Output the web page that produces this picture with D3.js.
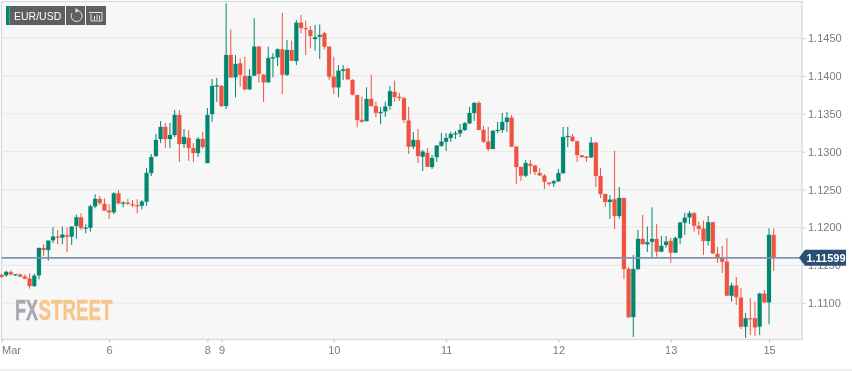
<!DOCTYPE html>
<html>
<head>
<meta charset="utf-8">
<script src="https://cdn.jsdelivr.net/npm/d3@7"></script>
<style>
  html, body { margin: 0; padding: 0; background: #fff; }
  svg { display: block; filter: blur(0.35px); }
  text { font-family: "Liberation Sans", Arial, sans-serif; }
</style>
</head>
<body>
<div id="chart"></div>
<script>
const tickIndex = [0, 23, 44, 47, 71, 95, 119, 143, 164];
const tickLabel = ["Mar", "6", "8", "9", "10", "11", "12", "13", "15"];
const priceTicks = [1.145, 1.14, 1.135, 1.13, 1.125, 1.12, 1.115, 1.11];
const lastPrice = 1.11599;

const open = [
  1.11373,1.11369,1.11409,1.11373,1.11377,1.11351,1.11324,1.11228,1.11369,1.11729,
  1.11703,1.11831,1.11879,1.11866,1.11897,1.11879,1.12020,1.12134,1.11984,1.11997,
  1.12279,1.12376,1.12310,1.12222,1.12201,1.12450,1.12319,1.12327,1.12306,1.12293,
  1.12288,1.12340,1.12718,1.12943,1.13167,1.13326,1.13167,1.13220,1.13484,1.13101,
  1.13180,1.13049,1.12983,1.13167,1.12850,1.13497,1.13860,1.13866,1.13603,1.14275,
  1.13981,1.14165,1.13998,1.13823,1.14002,1.14385,1.14015,1.13915,1.14231,1.14245,
  1.14350,1.14015,1.14341,1.14196,1.14701,1.14628,1.14605,1.14486,1.14517,1.14562,
  1.14385,1.13989,1.13849,1.14068,1.14095,1.13946,1.13748,1.13418,1.13405,1.13695,
  1.13599,1.13510,1.13533,1.13603,1.13788,1.13722,1.13704,1.13409,1.13066,1.13154,
  1.12934,1.12983,1.12798,1.12929,1.13079,1.13132,1.13180,1.13233,1.13242,1.13286,
  1.13374,1.13510,1.13642,1.13286,1.13132,1.13035,1.13273,1.13286,1.13392,1.13448,
  1.13066,1.12798,1.12683,1.12837,1.12815,1.12718,1.12683,1.12590,1.12583,1.12609,
  1.12718,1.13193,1.13198,1.13137,1.12952,1.12934,1.12925,1.13119,1.12679,1.12441,
  1.12336,1.12371,1.12151,1.12389,1.11452,1.10818,1.11452,1.11848,1.11778,1.11812,
  1.11848,1.11681,1.11769,1.11822,1.11668,1.11861,1.12063,1.12134,1.12187,1.12020,
  1.11984,1.11822,1.12068,1.11650,1.11597,1.11548,1.11100,1.11232,1.11074,1.10691,
  1.10801,1.10801,1.10691,1.11126,1.11013,1.11901
];
const high = [
  1.11386,1.11430,1.11435,1.11386,1.11390,1.11382,1.11395,1.11390,1.11733,1.11778,
  1.11826,1.12003,1.11967,1.12011,1.11997,1.12011,1.12169,1.12187,1.12042,1.12296,
  1.12437,1.12415,1.12385,1.12306,1.12464,1.12494,1.12345,1.12376,1.12362,1.12372,
  1.12362,1.12784,1.12969,1.13233,1.13405,1.13379,1.13379,1.13550,1.13550,1.13299,
  1.13286,1.13114,1.13193,1.13260,1.13576,1.13959,1.13972,1.13880,1.14957,1.14614,
  1.14275,1.14231,1.14253,1.14090,1.14760,1.14394,1.14025,1.14385,1.14298,1.14363,
  1.14833,1.14473,1.14464,1.14737,1.14803,1.14728,1.14658,1.14671,1.14680,1.14583,
  1.14385,1.14253,1.14143,1.14143,1.14100,1.13955,1.13748,1.13726,1.13849,1.14012,
  1.13660,1.13586,1.13660,1.13866,1.13937,1.13774,1.13722,1.13590,1.13260,1.13299,
  1.13022,1.13049,1.12956,1.13088,1.13246,1.13246,1.13260,1.13273,1.13365,1.13392,
  1.13590,1.13656,1.13669,1.13339,1.13326,1.13286,1.13392,1.13510,1.13524,1.13484,
  1.13066,1.12798,1.12890,1.12890,1.12824,1.12784,1.12705,1.12600,1.12626,1.12771,
  1.13326,1.13326,1.13233,1.13141,1.12956,1.12943,1.13193,1.13128,1.12784,1.12441,
  1.12428,1.13013,1.12534,1.12389,1.11479,1.11637,1.11967,1.12165,1.12011,1.12266,
  1.12046,1.11888,1.11888,1.11861,1.11879,1.12073,1.12192,1.12218,1.12205,1.12077,
  1.12090,1.12152,1.12073,1.11743,1.11756,1.11861,1.11271,1.11347,1.11201,1.10871,
  1.11069,1.11021,1.11139,1.11175,1.11989,1.11989
];
const low = [
  1.11340,1.11351,1.11364,1.11360,1.11342,1.11316,1.11192,1.11215,1.11316,1.11624,
  1.11562,1.11791,1.11778,1.11778,1.11673,1.11769,1.11852,1.11967,1.11923,1.11945,
  1.12253,1.12296,1.12222,1.12108,1.12174,1.12306,1.12266,1.12296,1.12266,1.12187,
  1.12240,1.12284,1.12679,1.12929,1.13114,1.13049,1.13049,1.13193,1.12864,1.13049,
  1.12877,1.12864,1.12929,1.13035,1.12850,1.13392,1.13656,1.13590,1.13563,1.13981,
  1.13718,1.13857,1.13814,1.13814,1.13998,1.13910,1.13656,1.13915,1.13981,1.14130,
  1.13761,1.13998,1.14196,1.14143,1.14562,1.14275,1.14363,1.14332,1.14223,1.14350,
  1.13946,1.13761,1.13718,1.13946,1.13946,1.13744,1.13322,1.13383,1.13396,1.13594,
  1.13454,1.13362,1.13461,1.13550,1.13660,1.13669,1.13379,1.12969,1.13035,1.12850,
  1.12745,1.12798,1.12771,1.12864,1.13062,1.13009,1.13128,1.13167,1.13193,1.13273,
  1.13365,1.13405,1.13286,1.13114,1.13009,1.13035,1.13246,1.13246,1.13260,1.13062,
  1.12573,1.12613,1.12666,1.12705,1.12692,1.12679,1.12508,1.12547,1.12534,1.12600,
  1.12705,1.13062,1.13128,1.12864,1.12923,1.12864,1.12916,1.12534,1.12389,1.12271,
  1.12112,1.11980,1.12112,1.11320,1.10805,1.10555,1.11439,1.11769,1.11677,1.11611,
  1.11615,1.11677,1.11733,1.11531,1.11664,1.11782,1.11901,1.12046,1.11945,1.11901,
  1.11637,1.11760,1.11650,1.11531,1.11399,1.11096,1.11021,1.10977,1.10660,1.10541,
  1.10581,1.10568,1.10581,1.11004,1.10723,1.11426
];
const close = [
  1.11347,1.11413,1.11382,1.11382,1.11351,1.11324,1.11228,1.11364,1.11729,1.11703,
  1.11826,1.11879,1.11871,1.11905,1.11879,1.12011,1.12134,1.11993,1.11997,1.12279,
  1.12376,1.12323,1.12222,1.12201,1.12450,1.12319,1.12327,1.12314,1.12293,1.12279,
  1.12340,1.12718,1.12929,1.13154,1.13326,1.13167,1.13220,1.13484,1.13101,1.13193,
  1.13049,1.12983,1.13167,1.13062,1.13484,1.13866,1.13873,1.13603,1.14275,1.13981,
  1.14156,1.14015,1.13823,1.13998,1.14385,1.14025,1.13915,1.14235,1.14245,1.14350,
  1.14015,1.14341,1.14200,1.14701,1.14632,1.14614,1.14526,1.14509,1.14539,1.14385,
  1.13989,1.13849,1.14068,1.14087,1.13955,1.13752,1.13418,1.13396,1.13695,1.13603,
  1.13514,1.13524,1.13594,1.13797,1.13722,1.13708,1.13418,1.13066,1.13154,1.12943,
  1.13000,1.12802,1.12916,1.13079,1.13132,1.13180,1.13233,1.13242,1.13286,1.13374,
  1.13510,1.13642,1.13286,1.13132,1.13035,1.13273,1.13286,1.13392,1.13448,1.13066,
  1.12798,1.12683,1.12850,1.12815,1.12732,1.12688,1.12604,1.12583,1.12609,1.12718,
  1.13193,1.13207,1.13141,1.12956,1.12929,1.12925,1.13119,1.12679,1.12441,1.12336,
  1.12366,1.12151,1.12389,1.11452,1.10818,1.11452,1.11848,1.11782,1.11804,1.11848,
  1.11681,1.11756,1.11812,1.11668,1.11861,1.12063,1.12129,1.12187,1.12024,1.11984,
  1.11822,1.12068,1.11659,1.11602,1.11548,1.11100,1.11232,1.11079,1.10691,1.10801,
  1.10792,1.10682,1.11126,1.11013,1.11901,1.11602
];

const width = 852, height = 371;
const frame = { left: 1.5, right: 802, top: 1.5, bottom: 339.5 };
const upColor = "#00876f", downColor = "#ef5340";

const svg = d3.select("#chart").append("svg")
    .attr("width", width)
    .attr("height", height);

// hourly candles, gaps in the calendar are dropped so x is just the index
const xScale = d3.scaleLinear()
    .domain([0, open.length - 1])
    .range([1.5, 773.7]);

const yScale = d3.scaleLinear()
    .domain([1.15001, 1.10515])
    .range([0, 340]);

// frame background
svg.append("rect")
    .attr("x", frame.left)
    .attr("y", frame.top)
    .attr("width", frame.right - frame.left)
    .attr("height", frame.bottom - frame.top)
    .attr("fill", "#f7f7f7")
    .attr("stroke", "#d3dae3")
    .attr("stroke-width", 1.3);

// grid
svg.append("g").selectAll("line")
    .data(priceTicks)
    .join("line")
    .attr("x1", frame.left)
    .attr("x2", frame.right)
    .attr("y1", d => yScale(d))
    .attr("y2", d => yScale(d))
    .attr("stroke", "#e9e9e9")
    .attr("stroke-width", 1.2);

// axes
const yAxis = d3.axisRight(yScale)
    .tickValues(priceTicks)
    .tickFormat(d3.format(".4f"))
    .tickSize(4)
    .tickPadding(2);

const yAxisG = svg.append("g")
    .attr("transform", `translate(${frame.right}, 0)`)
    .call(yAxis);
yAxisG.select(".domain").remove();
yAxisG.selectAll("line").attr("stroke", "#c9d2dc");
yAxisG.selectAll("text")
    .attr("fill", "#7b7b7b")
    .attr("font-size", "11px");

const xAxis = d3.axisBottom(xScale)
    .tickValues(tickIndex)
    .tickFormat((d, i) => tickLabel[i])
    .tickSize(3)
    .tickPadding(4);

const xAxisG = svg.append("g")
    .attr("transform", `translate(0, ${frame.bottom})`)
    .call(xAxis);
xAxisG.select(".domain").remove();
xAxisG.selectAll("line").attr("stroke", "#b9c3cf");
xAxisG.selectAll("text")
    .attr("fill", "#7b7b7b")
    .attr("font-size", "11px");
xAxisG.selectAll("text").filter((d, i) => i === 0).attr("text-anchor", "start");

// faint page rule at the bottom
svg.append("rect")
    .attr("x", 0).attr("y", 369)
    .attr("width", width).attr("height", 2)
    .attr("fill", "#f1f1f1");

// watermark
const logo = svg.append("g")
    .attr("font-weight", "bold")
    .attr("font-size", "30px")
    .style("font-family", '"Liberation Sans Narrow", "Liberation Sans", sans-serif');
logo.append("text")
    .attr("x", 15).attr("y", 320)
    .attr("textLength", 23)
    .attr("lengthAdjust", "spacingAndGlyphs")
    .attr("fill", "#a6a9ae")
    .attr("stroke", "#a6a9ae")
    .attr("stroke-width", 0.5)
    .style("font-family", "inherit")
    .text("FX");
logo.append("text")
    .attr("x", 38.5).attr("y", 320)
    .attr("textLength", 74)
    .attr("lengthAdjust", "spacingAndGlyphs")
    .attr("fill", "#f9c58f")
    .attr("stroke", "#f9c58f")
    .attr("stroke-width", 0.5)
    .style("font-family", "inherit")
    .text("STREET");

// candles
const candles = d3.range(open.length).map(i => ({
    i, open: open[i], high: high[i], low: low[i], close: close[i]
}));
const candleColor = d => d.close >= d.open ? upColor : downColor;
const bodyWidth = 4;

const candleG = svg.append("g");

candleG.selectAll(".wick")
    .data(candles)
    .join("line")
    .attr("class", "wick")
    .attr("x1", d => xScale(d.i))
    .attr("x2", d => xScale(d.i))
    .attr("y1", d => yScale(d.high))
    .attr("y2", d => yScale(d.low))
    .attr("stroke", candleColor)
    .attr("stroke-width", 1);

candleG.selectAll(".body")
    .data(candles)
    .join("rect")
    .attr("class", "body")
    .attr("x", d => xScale(d.i) - bodyWidth / 2)
    .attr("width", bodyWidth)
    .attr("y", d => yScale(Math.max(d.open, d.close)))
    .attr("height", d => Math.max(1, Math.abs(yScale(d.open) - yScale(d.close))))
    .attr("fill", candleColor)
    .attr("stroke", candleColor)
    .attr("stroke-opacity", 0.2)
    .attr("stroke-width", 1);

// last price line and flag
const lastY = yScale(lastPrice);
svg.append("line")
    .attr("x1", frame.left)
    .attr("x2", frame.right)
    .attr("y1", lastY)
    .attr("y2", lastY)
    .attr("stroke", "#8293ad")
    .attr("stroke-width", 1.6);

svg.append("path")
    .attr("d", d3.line()([[799, lastY], [805, lastY - 8], [846, lastY - 8], [846, lastY + 8], [805, lastY + 8]]) + "Z")
    .attr("fill", "#2a4f73");

svg.append("text")
    .attr("x", 826)
    .attr("y", lastY + 4)
    .attr("text-anchor", "middle")
    .attr("font-size", "11px")
    .attr("font-weight", "bold")
    .attr("fill", "#fff")
    .text(d3.format(".5f")(lastPrice));

// toolbar
const toolbar = svg.append("g");
toolbar.append("rect").attr("x", 6).attr("y", 6).attr("width", 3.5).attr("height", 19).attr("fill", upColor);
toolbar.append("rect").attr("x", 9.5).attr("y", 6).attr("width", 55.5).attr("height", 19).attr("fill", "#5f5f5f");
toolbar.append("rect").attr("x", 66).attr("y", 6).attr("width", 19).attr("height", 19).attr("fill", "#5f5f5f");
toolbar.append("rect").attr("x", 86).attr("y", 6).attr("width", 20).attr("height", 19).attr("fill", "#5f5f5f");
toolbar.append("text")
    .attr("x", 14).attr("y", 19.5)
    .attr("font-size", "10.5px")
    .attr("fill", "#fff")
    .text("EUR/USD");

// reload icon
toolbar.append("path")
    .attr("d", "M75 10.5 A5.5 5.5 0 1 1 71 13")
    .attr("transform", "translate(1, 0)")
    .attr("fill", "none")
    .attr("stroke", "#e4e4e4")
    .attr("stroke-width", 1);
toolbar.append("path")
    .attr("d", "M75.5 8 L79 10.5 L75.5 13 Z")
    .attr("fill", "#e4e4e4");

// candle settings icon
toolbar.append("path")
    .attr("d", "M91 12.5 H102 V21 H91 V14 M89 12.5 H93")
    .attr("fill", "none")
    .attr("stroke", "#e4e4e4")
    .attr("stroke-width", 1);
toolbar.append("path")
    .attr("d", "M94.5 16 V20 M97 14.5 V20 M99.5 15.5 V20")
    .attr("fill", "none")
    .attr("stroke", "#e4e4e4")
    .attr("stroke-width", 1);
</script>
</body>
</html>
